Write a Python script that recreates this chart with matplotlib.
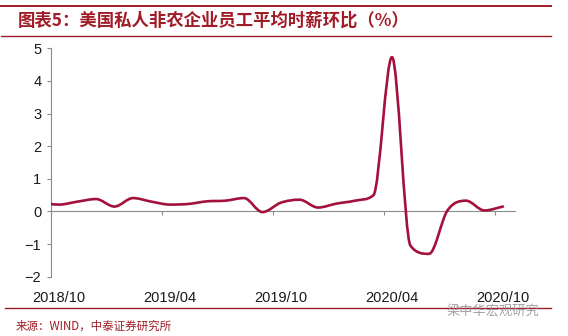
import numpy as np
import matplotlib
matplotlib.use("Agg")
import matplotlib.pyplot as plt
from matplotlib.path import Path
from matplotlib.patches import PathPatch
from matplotlib.lines import Line2D

# monthly MoM change of avg hourly earnings, 2018/09 .. 2020/10 (first point falls just left of the axis)
months = ["2018/09", "2018/10", "2018/11", "2018/12", "2019/01", "2019/02", "2019/03",
          "2019/04", "2019/05", "2019/06", "2019/07", "2019/08", "2019/09", "2019/10",
          "2019/11", "2019/12", "2020/01", "2020/02", "2020/03", "2020/04", "2020/05",
          "2020/06", "2020/07", "2020/08", "2020/09", "2020/10"]
values = [0.26, 0.21, 0.30, 0.38, 0.15, 0.41, 0.30,
          0.21, 0.23, 0.31, 0.33, 0.41, -0.02, 0.27,
          0.36, 0.12, 0.24, 0.33, 0.50, 4.73, -1.05,
          -1.30, 0.03, 0.33, 0.03, 0.15]
tick_labels = ["2018/10", "2019/04", "2019/10", "2020/04", "2020/10"]

red = "#a01c26"
line_color = "#a3113c"
gray = "#8c8c8c"

plt.rcParams['font.family'] = ['Liberation Sans', 'Noto Sans CJK SC', 'DejaVu Sans']
cjk = ['Noto Sans CJK SC', 'DejaVu Sans']

x = np.arange(len(values)) - 1.0   # 2018/10 -> 0
y = np.array(values)


def smooth_path(x, y):
    # catmull-rom style bezier, tangents clamped so the curve does not overshoot
    h = np.diff(x)
    delta = np.diff(y) / h
    n = len(x)
    d = np.zeros(n)
    d[0] = delta[0]
    d[-1] = delta[-1]
    for k in range(1, n - 1):
        if delta[k - 1] * delta[k] <= 0:
            d[k] = 0.0
        else:
            t = (y[k + 1] - y[k - 1]) / (x[k + 1] - x[k - 1])
            lim = 3 * min(abs(delta[k - 1]), abs(delta[k]))
            d[k] = np.sign(t) * min(abs(t), lim)
    verts = [(x[0], y[0])]
    codes = [Path.MOVETO]
    for i in range(n - 1):
        verts.append((x[i] + h[i] / 3, y[i] + d[i] * h[i] / 3))
        verts.append((x[i + 1] - h[i] / 3, y[i + 1] - d[i + 1] * h[i] / 3))
        verts.append((x[i + 1], y[i + 1]))
        codes += [Path.CURVE4] * 3
    return Path(verts, codes)


fig = plt.figure(figsize=(5.68, 3.36), dpi=100)
ax = fig.add_axes([51 / 568, 59.3 / 336, 464 / 568, 228.4 / 336])

ax.add_patch(PathPatch(smooth_path(x, y), fill=False, edgecolor=line_color,
                       lw=1.9, capstyle='round', joinstyle='round', zorder=3))

x0, x1 = -0.432, 24.65
ax.set_xlim(x0, x1)
ax.set_ylim(-2, 5)

for s in ['top', 'right']:
    ax.spines[s].set_visible(False)
ax.spines['left'].set_color(gray)
ax.spines['bottom'].set_color(gray)
ax.spines['bottom'].set_position(('data', 0))

ax.set_yticks(range(-2, 6))
ax.tick_params(axis='y', direction='out', length=3, width=0.8, color=gray,
               pad=4, labelsize=10.5, labelcolor='#1a1a1a')

ax.set_xticks(x0 + 6 * np.arange(5))
ax.tick_params(axis='x', direction='out', length=3, width=0.8, color=gray,
               labelbottom=False)

sec = ax.secondary_xaxis('bottom')
sec.set_xticks(np.arange(0, 25, 6), labels=tick_labels)
sec.spines['bottom'].set_visible(False)
sec.tick_params(length=0, pad=10, labelsize=10.5, labelcolor='#1a1a1a')

# header / footer
fig.add_artist(Line2D([1 / 568, 551 / 568], [1 - 6.2 / 336] * 2, color=red, lw=1.4))
fig.add_artist(Line2D([1 / 568, 551 / 568], [1 - 35.5 / 336] * 2, color=red, lw=1.0))
fig.add_artist(Line2D([5 / 568, 551 / 568], [1 - 308 / 336] * 2, color=red, lw=1.0))

fig.text(18 / 568, 1 - 21 / 336, "图表5：美国私人非农企业员工平均时薪环比（%）",
         fontsize=12.5, fontweight='bold', color=red, va='center', ha='left', family=cjk)
fig.text(16 / 568, 1 - 326 / 336, "来源：WIND，中泰证券研究所",
         fontsize=8.3, color=red, va='center', ha='left', family=cjk)
fig.text(447 / 568, 1 - 311 / 336, "梁中华宏观研究",
         fontsize=9.5, color='#8a8a8a', alpha=0.8, va='center', ha='left', family=cjk)

fig.savefig("out.png", dpi=100)
